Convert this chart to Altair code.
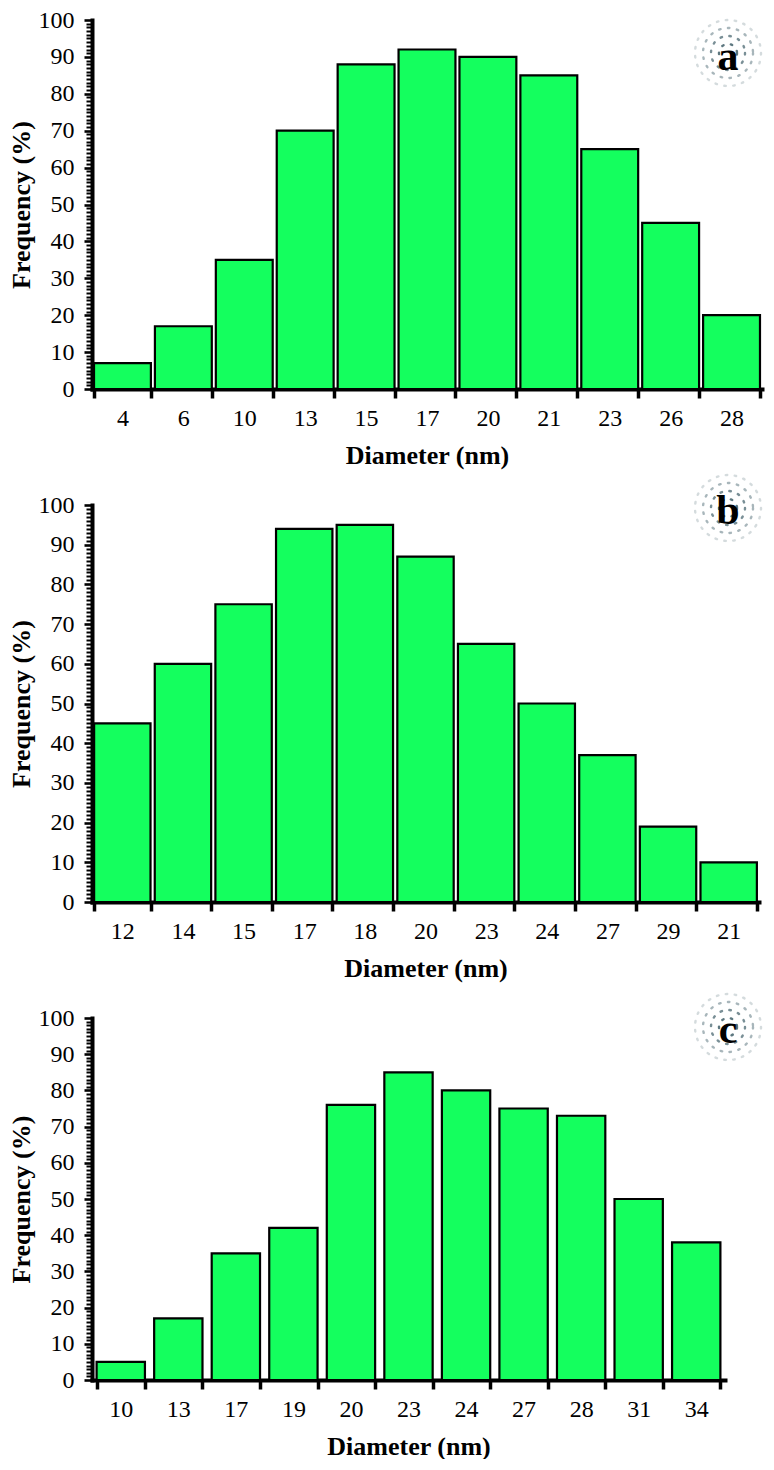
import altair as alt
import pandas as pd

# ---- data ----
a_diam = ["4", "6", "10", "13", "15", "17", "20", "21", "23", "26", "28"]
a_freq = [7, 17, 35, 70, 88, 92, 90, 85, 65, 45, 20]

b_diam = ["12", "14", "15", "17", "18", "20", "23", "24", "27", "29", "21"]
b_freq = [45, 60, 75, 94, 95, 87, 65, 50, 37, 19, 10]

c_diam = ["10", "13", "17", "19", "20", "23", "24", "27", "28", "31", "34"]
c_freq = [5, 17, 35, 42, 76, 85, 80, 75, 73, 50, 38]

y_ticks = list(range(0, 101))
panel_letters = ["a", "b", "c"]

GREEN = "#14FF5E"
FONT = "Liberation Serif"


def panel(diam, freq, letter, w, h, pad_inner, bx, by, ly):
    df = pd.DataFrame({"d": diam, "f": freq})
    bars = alt.Chart(df).mark_bar(
        color=GREEN, stroke="black", strokeWidth=2.2
    ).encode(
        x=alt.X(
            "d:N", sort=None,
            scale=alt.Scale(paddingInner=pad_inner, paddingOuter=pad_inner / 2),
            axis=alt.Axis(
                title="Diameter (nm)", labelAngle=0, tickBand="extent",
                tickSize=9, tickWidth=3.5, domainWidth=4, domainCap="square",
                labelPadding=8, titlePadding=12,
            ),
        ),
        y=alt.Y(
            "f:Q",
            scale=alt.Scale(domain=[0, 100], nice=False),
            axis=alt.Axis(
                title="Frequency (%)", values=y_ticks,
                labelExpr="datum.value % 10 === 0 ? datum.label : ''",
                labelOverlap=False,
                tickSize={"condition": {"test": "datum.value % 10 === 0", "value": 8}, "value": 6},
                tickWidth={"condition": {"test": "datum.value % 10 === 0", "value": 2.6}, "value": 2},
                domainWidth=4, domainCap="square",
                labelPadding=10, titlePadding=4, grid=False,
            ),
        ),
    )
    one = alt.Data(values=[{"k": 1}])
    rings = []
    for r, op in [(9, 0.85), (17, 0.7), (25, 0.45), (33, 0.22)]:
        rings.append(
            alt.Chart(one).mark_point(
                shape="circle", size=(2 * r) ** 2, filled=False,
                stroke="#41606a", strokeWidth=2.4, strokeDash=[1.5, 7.5],
                strokeCap="round", opacity=op,
            ).encode(x=alt.value(bx), y=alt.value(by))
        )
    txt = alt.Chart(one).mark_text(
        text=letter, font=FONT, fontSize=42, fontWeight="bold", color="black",
        baseline="middle", align="center",
    ).encode(x=alt.value(bx), y=alt.value(ly))
    return alt.layer(bars, *rings, txt).properties(width=w, height=h)


pa = panel(a_diam, a_freq, panel_letters[0], 670, 369, 0.066, 636, 33, 37)
pb = panel(b_diam, b_freq, panel_letters[1], 667, 397, 0.07, 636, 3, 6)
pc = panel(c_diam, c_freq, panel_letters[2], 633, 362, 0.16, 636, 9, 12)

chart = alt.vconcat(pa, pb, pc, spacing=116, bounds="flush").properties(
    padding={"top": 0, "left": 0, "right": 0, "bottom": 0}
).configure_view(stroke=None).configure_axis(
    labelFont=FONT, labelFontSize=24, labelColor="black",
    titleFont=FONT, titleFontSize=26, titleFontWeight="bold", titleColor="black",
    domainColor="black", tickColor="black",
)

chart.save("out.html", embed_options={"renderer": "svg", "actions": False})
